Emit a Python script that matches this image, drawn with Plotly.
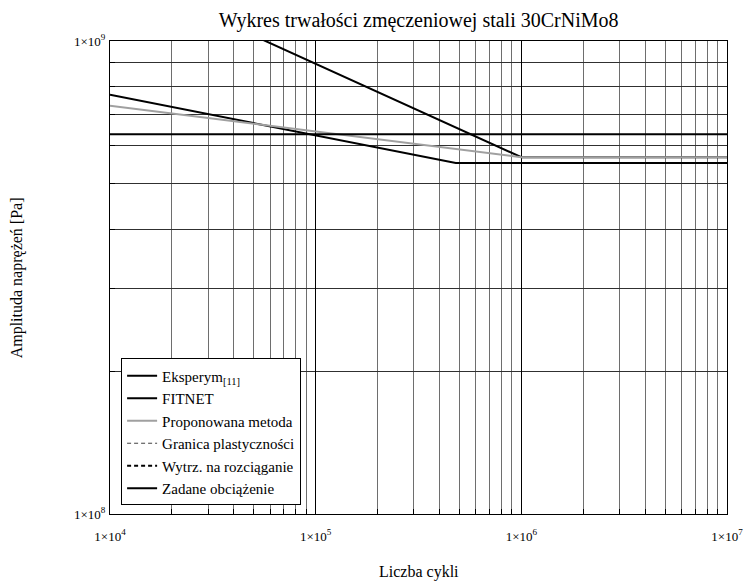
import plotly.graph_objects as go

# --- data ---
N_range = [1e4, 1e7]
eksp_N = [1e4, 4.8e5, 1e7]
eksp_S = [7.7e8, 5.52e8, 5.52e8]
fitnet_N = [1e4, 1e6, 1e7]
fitnet_S = [1.41e9, 5.68e8, 5.68e8]
prop_N = [1e4, 1e6, 1e7]
prop_S = [7.3e8, 5.68e8, 5.68e8]
granica_S = 1.05e9
wytrz_S = 1.25e9
zadane_S = 6.35e8

x_tickvals = [1e4, 1e5, 1e6, 1e7]
x_ticktext = ["1×10<sup>4</sup>", "1×10<sup>5</sup>", "1×10<sup>6</sup>", "1×10<sup>7</sup>"]
y_tickvals = [1e8, 1e9]
y_ticktext = ["1×10<sup>8</sup>", "1×10<sup>9</sup>"]

FONT = "Liberation Serif, Times New Roman, serif"

x_minor = [m * 10 ** k for k in range(4, 7) for m in range(2, 10)]
y_minor = [m * 1e8 for m in range(2, 10)]

fig = go.Figure()
fig.add_trace(go.Scatter(x=eksp_N, y=eksp_S, mode="lines", name="Eksperym<sub>[11]</sub>",
                         line=dict(color="black", width=2)))
fig.add_trace(go.Scatter(x=fitnet_N, y=fitnet_S, mode="lines", name="FITNET",
                         line=dict(color="black", width=2)))
fig.add_trace(go.Scatter(x=prop_N, y=prop_S, mode="lines", name="Proponowana metoda",
                         line=dict(color="#a0a0a0", width=2)))
fig.add_trace(go.Scatter(x=N_range, y=[granica_S, granica_S], mode="lines", name="Granica plastyczności",
                         line=dict(color="#404040", width=1, dash="4px,3px")))
fig.add_trace(go.Scatter(x=N_range, y=[wytrz_S, wytrz_S], mode="lines", name="Wytrz. na rozciąganie",
                         line=dict(color="black", width=2, dash="4px,3px")))
fig.add_trace(go.Scatter(x=N_range, y=[zadane_S, zadane_S], mode="lines", name="Zadane obciążenie",
                         line=dict(color="black", width=2)))

fig.update_layout(
    width=747, height=582,
    margin=dict(l=110, r=20, t=41, b=68, autoexpand=False),
    paper_bgcolor="white", plot_bgcolor="white",
    font=dict(family=FONT, color="black", size=15),
    title=dict(text="Wykres trwałości zmęczeniowej stali 30CrNiMo8", x=0.5604, xanchor="center",
               y=0.966, yanchor="middle", font=dict(family=FONT, size=20, color="black")),
    showlegend=True,
    legend=dict(x=0.018, y=0.018, xanchor="left", yanchor="bottom",
                bgcolor="white", bordercolor="black", borderwidth=1,
                font=dict(family=FONT, size=15, color="black"),
                tracegroupgap=0, itemwidth=30),
    xaxis=dict(type="log", range=[4, 7], tickvals=x_tickvals, ticktext=x_ticktext,
               showgrid=True, gridcolor="black", gridwidth=1,
               showline=True, linecolor="black", linewidth=1, mirror=True,
               ticks="", ticklabelstandoff=10, automargin=False,
               tickfont=dict(family=FONT, size=13, color="black"),
               minor=dict(tickvals=x_minor, showgrid=True, gridcolor="#6e6e6e", gridwidth=1,
                          ticks="inside", ticklen=5, tickcolor="black"),
               zeroline=False),
    yaxis=dict(type="log", range=[8, 9], tickvals=y_tickvals, ticktext=y_ticktext,
               showgrid=False,
               showline=True, linecolor="black", linewidth=1, mirror=True,
               ticks="", ticklabelstandoff=1, automargin=False,
               tickfont=dict(family=FONT, size=13, color="black"),
               minor=dict(tickvals=y_minor, showgrid=True, gridcolor="#303030", gridwidth=1,
                          ticks="inside", ticklen=5, tickcolor="black"),
               zeroline=False),
    annotations=[
        dict(text="Liczba cykli", xref="paper", yref="paper", x=0.5, y=-0.123,
             xanchor="center", yanchor="middle", showarrow=False,
             font=dict(family=FONT, size=16, color="black")),
        dict(text="Amplituda naprężeń [Pa]", xref="paper", yref="paper", x=-0.151, y=0.5,
             xanchor="center", yanchor="middle", textangle=-90, showarrow=False,
             font=dict(family=FONT, size=16, color="black")),
    ],
)

fig.write_html("out.html", config={"displayModeBar": False},
               post_script="document.body.style.margin='0px';document.body.style.overflow='hidden';")
